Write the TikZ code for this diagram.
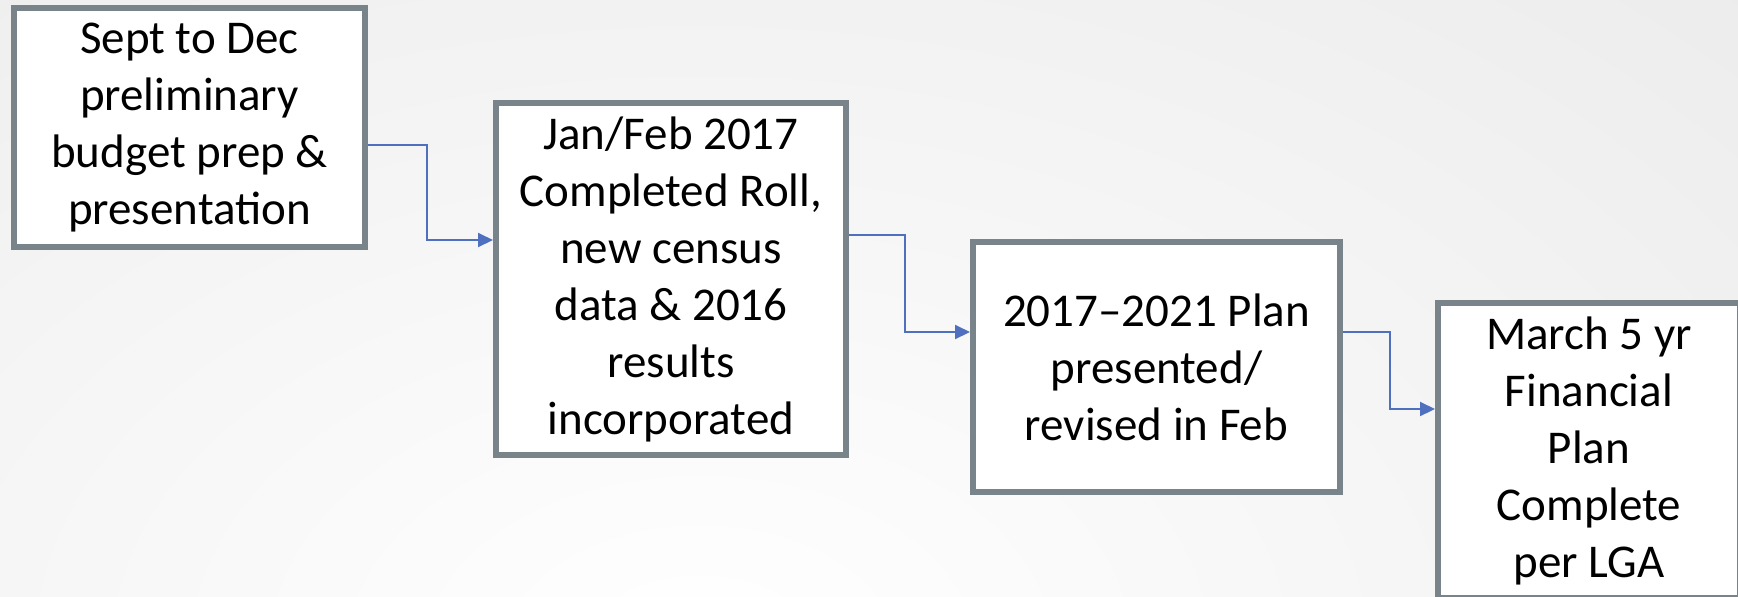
\documentclass[tikz,border=0pt]{standalone}
\usepackage{fontspec}
\setmainfont{Carlito}
\usetikzlibrary{calc,positioning,arrows.meta}
\definecolor{boxgray}{HTML}{78848A}
\definecolor{linkblue}{HTML}{4F6FBF}

\begin{document}
\begin{tikzpicture}[x=0.5pt,y=-0.5pt,
		stage/.style={draw=boxgray,line width=3pt,fill=white,align=center,inner sep=0pt,
			font=\fontsize{23.5}{28.5}\selectfont},
		link/.style={draw=linkblue,line width=1pt,-{Triangle[length=7.5pt,width=7pt]}}]
				\useasboundingbox (0,0) rectangle (1738,596);
				\begin{scope}
				\clip (0,0) rectangle (1738,596);
				% background
				\shade[inner color=white,outer color=black!11] (-1500,-750) rectangle (2900,2050);
				\node[stage,minimum width=175.5pt,minimum height=119.5pt] (prep) at (189.5,127.5)
					{Sept to Dec\\preliminary\\budget prep \&\\presentation};
				\node[stage,minimum width=175pt,minimum height=176pt] (roll) at (671,279)
					{Jan/Feb 2017\\Completed Roll,\\new census\\data \& 2016\\results\\incorporated};
				\node[stage,minimum width=183.5pt,minimum height=125pt] (plan) at (1156.5,367)
					{2017--2021 Plan\\presented/\\revised in Feb};
				\node[stage,minimum width=151pt,minimum height=147.5pt] (final) at (1589,450.5)
					{March 5 yr\\Financial\\Plan\\Complete\\per LGA};
				\draw[link] ([yshift=-8.75pt]prep.east) -- ++(59,0) |- ([yshift=19.5pt]roll.west);
				\draw[link] ([yshift=22pt]roll.east) -- ++(56,0) |- ([yshift=17.5pt]plan.west);
				\draw[link] ([yshift=17.5pt]plan.east) -- ++(47,0) |- ([yshift=20.75pt]final.west);
				\end{scope}
\end{tikzpicture}
\end{document}
